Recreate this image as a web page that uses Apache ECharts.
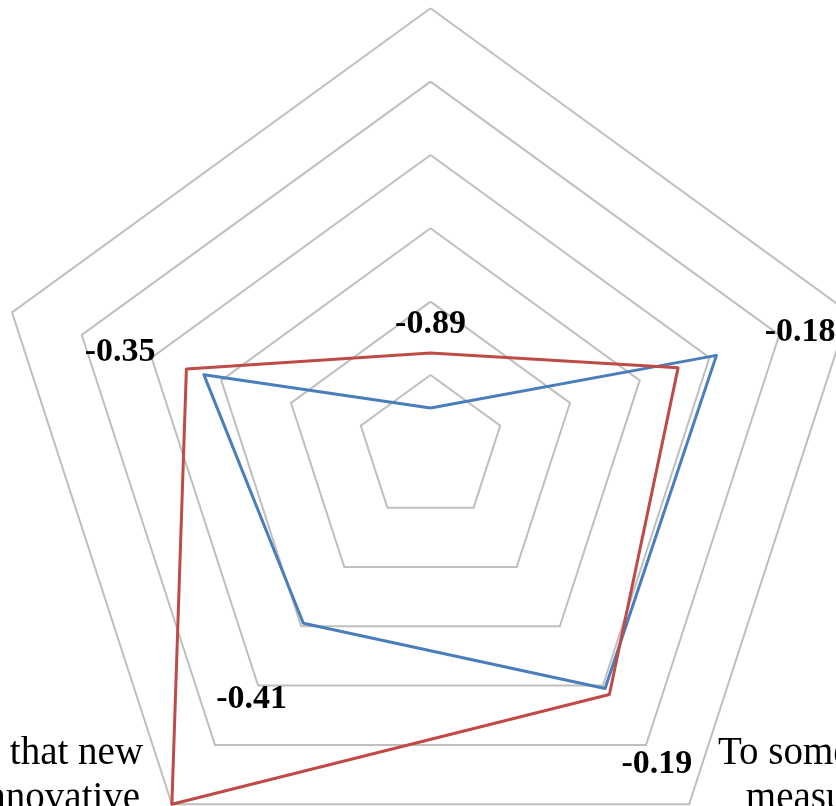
<!DOCTYPE html>
<html>
<head>
<meta charset="utf-8">
<script src="https://cdn.jsdelivr.net/npm/echarts@6/dist/echarts.min.js"></script>
<style>
  html, body { margin: 0; padding: 0; background: #ffffff; }
  #chart { width: 836px; height: 806px; }
</style>
</head>
<body>
<div id="chart"></div>
<script>
// Survey statements, listed clockwise starting from the top spoke
const categories = [
  'Overall, staff are\nsatisfied with the\nway the changes\nhave been made\nso far',
  'The new approach\nis easy to\nunderstand and\napply in daily\nwork',
  'To some extent, the\nmeasures taken,\nsuch as the new\nprocedures, have\nbeen effective',
  'Teachers believe that new\ntools are more innovative\nthan the older ones\nand improve\nresults',
  'Enough support\nand training\nwere provided\nduring the\ntransition'
];

// Mean scores per statement
const scoresBlue = [-0.89, -0.18, -0.19, -0.41, -0.35];
const scoresRed = [-0.74, -0.29, -0.17, 0.20, -0.30];

// Value scale shared by every spoke
const scaleMin = -1.0;
const scaleMax = 0.2;
const ringCount = 6;

// ECharts places spokes counter-clockwise, so reorder the clockwise lists
const order = [0, 4, 3, 2, 1];
const reorder = arr => order.map(i => arr[i]);

const indicators = reorder(categories).map(name => ({ name: name, min: scaleMin, max: scaleMax }));
const blueValues = reorder(scoresBlue);
const redValues = reorder(scoresRed);

const serif = '"Liberation Serif", "Times New Roman", serif';
const labelDistance = 88;
const labelDrop = 4.5;

// One invisible carrier per spoke, so each value label can sit outward along its own spoke
const labelCarriers = blueValues.map((v, j) => {
  const a = (90 + j * 360 / blueValues.length) * Math.PI / 180;
  return {
    value: blueValues,
    label: {
      show: true,
      position: 'inside',
      offset: [labelDistance * Math.cos(a), -labelDistance * Math.sin(a) + labelDrop],
      formatter: p => {
        const dim = p.dimensionIndex != null ? p.dimensionIndex : blueValues.indexOf(p.value);
        return dim === j ? blueValues[j].toFixed(2) : '';
      }
    }
  };
});

const chart = echarts.init(document.getElementById('chart'), null, { renderer: 'canvas' });

chart.setOption({
  animation: false,
  backgroundColor: '#ffffff',
  radar: {
    center: [430.5, 448.3],
    radius: 440,
    startAngle: 90,
    shape: 'polygon',
    splitNumber: ringCount,
    indicator: indicators,
    axisNameGap: 49,
    axisName: {
      color: '#000000',
      fontFamily: serif,
      fontSize: 39,
      formatter: name => name.split('\n').map(line => '{c|' + line + '}').join('\n'),
      rich: {
        c: {
          align: 'center',
          fontFamily: serif,
          fontSize: 39,
          lineHeight: 45,
          color: '#000000'
        }
      }
    },
    axisLine: { show: false },
    axisTick: { show: false },
    axisLabel: { show: false },
    splitArea: { show: false },
    splitLine: { lineStyle: { color: '#BFBFBF', width: 2 } }
  },
  series: [
    {
      type: 'radar',
      symbol: 'none',
      silent: true,
      lineStyle: { color: '#4A7EBB', width: 3 },
      itemStyle: { color: '#4A7EBB' },
      data: [{ value: blueValues }]
    },
    {
      type: 'radar',
      symbol: 'none',
      silent: true,
      lineStyle: { color: '#BE4B48', width: 3 },
      itemStyle: { color: '#BE4B48' },
      data: [{ value: redValues }]
    },
    {
      type: 'radar',
      symbol: 'circle',
      symbolSize: 1,
      silent: true,
      z: 5,
      lineStyle: { width: 0, opacity: 0 },
      itemStyle: { color: 'rgba(0,0,0,0)', borderWidth: 0 },
      label: {
        color: '#000000',
        fontFamily: serif,
        fontWeight: 'bold',
        fontSize: 34
      },
      data: labelCarriers
    }
  ]
});
</script>
</body>
</html>
